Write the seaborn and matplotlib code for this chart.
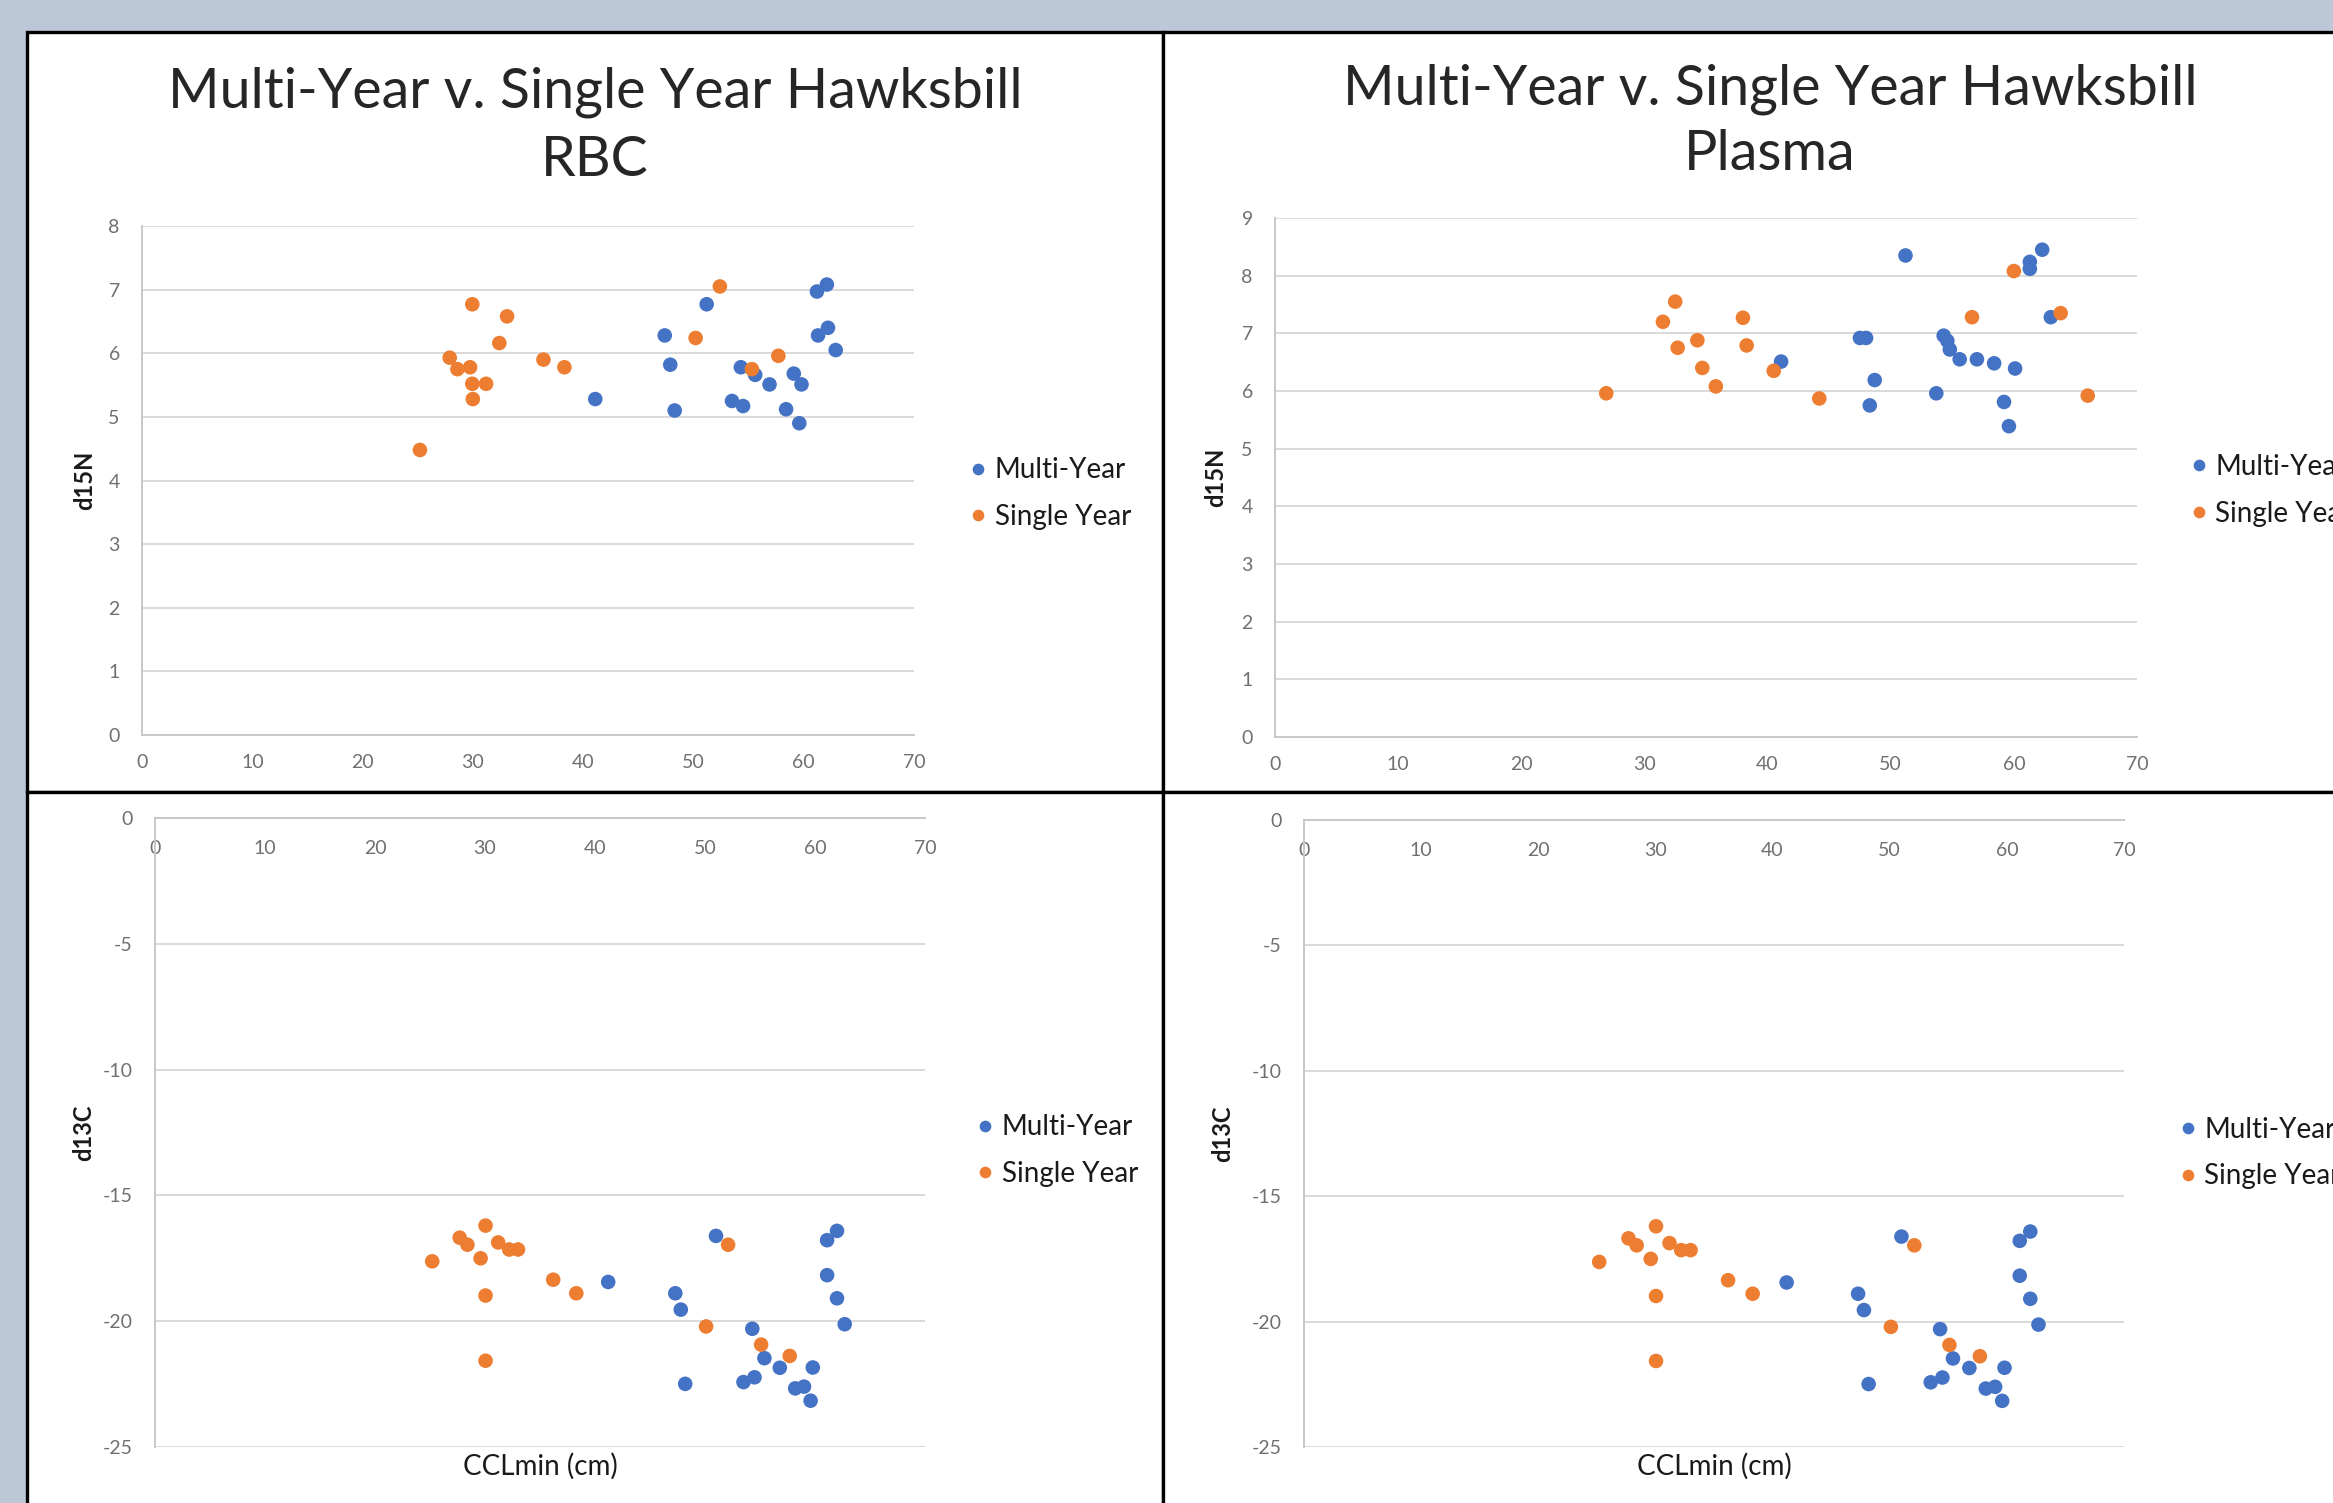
import numpy as np
import pandas as pd
import matplotlib
matplotlib.use("Agg")
import matplotlib.pyplot as plt
import seaborn as sns
from matplotlib.patches import Rectangle

# --- values (CCLmin in cm vs isotope ratio) ---
rbc_multi_ccl = [41.1, 47.4, 47.9, 48.3, 51.2, 53.5, 54.3, 54.5, 55.6, 56.9,
                 58.4, 59.1, 59.6, 59.8, 61.2, 61.3, 62.1, 62.2, 62.9]
rbc_multi_d15n = [5.28, 6.28, 5.82, 5.10, 6.77, 5.25, 5.78, 5.17, 5.66, 5.51,
                  5.12, 5.68, 4.90, 5.51, 6.97, 6.28, 7.08, 6.40, 6.05]
rbc_single_ccl = [25.2, 27.9, 28.6, 29.75, 29.95, 29.95, 30.0, 31.2, 32.4, 33.1,
                  36.4, 38.3, 50.2, 52.4, 55.3, 57.7]
rbc_single_d15n = [4.48, 5.93, 5.75, 5.78, 6.77, 5.52, 5.28, 5.52, 6.16, 6.58,
                   5.90, 5.78, 6.24, 7.05, 5.75, 5.96]

plasma_multi_ccl = [41.1, 47.5, 48.0, 48.3, 48.7, 51.2, 53.7, 54.3, 54.6, 54.8,
                    55.6, 57.0, 58.4, 59.2, 59.6, 60.1, 61.3, 61.3, 62.3, 63.0]
plasma_multi_d15n = [6.51, 6.92, 6.92, 5.75, 6.19, 8.35, 5.96, 6.96, 6.87, 6.72,
                     6.55, 6.55, 6.48, 5.81, 5.39, 6.39, 8.12, 8.24, 8.45, 7.28]
plasma_single_ccl = [26.9, 31.5, 32.5, 32.7, 34.3, 34.7, 35.8, 38.0, 38.3, 40.5,
                     44.2, 56.6, 60.0, 63.8, 66.0]
plasma_single_d15n = [5.96, 7.20, 7.55, 6.75, 6.88, 6.40, 6.08, 7.27, 6.79, 6.35,
                      5.87, 7.28, 8.08, 7.35, 5.92]

# d13C panels (both bottom charts show the same points)
c_multi_ccl = [41.2, 47.3, 47.8, 48.2, 51.0, 53.5, 54.3, 54.5, 55.4, 56.8,
               58.2, 59.0, 59.6, 59.8, 61.1, 61.1, 62.0, 62.0, 62.7]
c_multi_d13c = [-18.44, -18.89, -19.54, -22.49, -16.61, -22.42, -20.30, -22.23, -21.47, -21.85,
                -22.67, -22.60, -23.16, -21.84, -18.17, -16.78, -16.41, -19.09, -20.12]
c_single_ccl = [25.2, 27.7, 28.4, 29.6, 30.05, 30.05, 30.05, 31.2, 32.2, 33.0,
                36.2, 38.3, 50.1, 52.1, 55.1, 57.7]
c_single_d13c = [-17.62, -16.68, -16.96, -17.50, -16.20, -18.98, -21.57, -16.87, -17.15, -17.15,
                 -18.35, -18.89, -20.21, -16.96, -20.93, -21.38]

groups = ["Multi-Year", "Single Year"]
palette = {"Multi-Year": "#4472C4", "Single Year": "#ED7D31"}
title_main = "Multi-Year v. Single Year Hawksbill"

W, H = 2333, 1503


def make_df(mx, my, sx, sy):
    a = pd.DataFrame({"ccl": mx, "val": my, "group": groups[0]})
    b = pd.DataFrame({"ccl": sx, "val": sy, "group": groups[1]})
    return pd.concat([a, b], ignore_index=True)


def px_axes(fig, x0, y0, x1, y1):
    # pixel box (top-left origin) -> figure fraction axes
    return fig.add_axes([x0 / W, 1 - y1 / H, (x1 - x0) / W, (y1 - y0) / H])


def draw_panel(ax, df, ylab, ylim, yticks, flipped, leg_anchor, ylab_x):
    sns.scatterplot(data=df, x="ccl", y="val", hue="group", hue_order=groups,
                    palette=palette, s=110, linewidth=0, ax=ax)
    ax.set_facecolor("white")
    ax.set_xlim(0, 70)
    ax.set_ylim(*ylim)
    ax.set_xticks(range(0, 71, 10))
    ax.set_yticks(yticks)
    ax.grid(axis="y", color="#d9d9d9", linewidth=1.4)
    ax.grid(axis="x", visible=False)
    for s in ax.spines.values():
        s.set_visible(False)
    ax.spines["left"].set_visible(True)
    ax.spines["left"].set_color("#c8c8c8")
    ax.spines["left"].set_linewidth(1.4)
    ax.tick_params(length=0, labelsize=14, labelcolor="#707070")
    ax.tick_params(axis="y", pad=16)
    if flipped:
        ax.xaxis.tick_top()
        ax.spines["top"].set_visible(True)
        ax.spines["top"].set_color("#c8c8c8")
        ax.spines["top"].set_linewidth(1.4)
        ax.tick_params(axis="x", labeltop=True, labelbottom=False, pad=-28)
        ax.xaxis.set_label_position("bottom")
        ax.set_xlabel("CCLmin (cm)", fontsize=20, labelpad=4, color="#1a1a1a")
    else:
        ax.spines["bottom"].set_visible(True)
        ax.spines["bottom"].set_color("#c8c8c8")
        ax.spines["bottom"].set_linewidth(1.4)
        ax.tick_params(axis="x", pad=14)
        ax.set_xlabel("")
    ax.set_ylabel(ylab, fontsize=17, fontweight="bold", color="#1a1a1a")
    ax.yaxis.set_label_coords(ylab_x, 0.5)
    sns.move_legend(ax, "center left", bbox_to_anchor=leg_anchor, title=None,
                    frameon=False, fontsize=20, handlelength=0.6,
                    handletextpad=0.3, labelspacing=0.75, markerscale=0.8,
                    borderaxespad=0, labelcolor="#1a1a1a")


sns.set_theme(style="white")
plt.rcParams["font.family"] = ["Lato", "DejaVu Sans"]
plt.rcParams["axes.unicode_minus"] = False

fig = plt.figure(figsize=(W / 100, H / 100), dpi=100)
fig.patch.set_facecolor("#bcc8d7")

# white chart panels with black frames
panel_kw = dict(transform=fig.transFigure, facecolor="white", edgecolor="black",
                linewidth=2.4, zorder=-5)
fig.patches.append(Rectangle((27 / W, 1 - 792 / H), 1136 / W, 760 / H, **panel_kw))
fig.patches.append(Rectangle((1163 / W, 1 - 792 / H), 1300 / W, 760 / H, **panel_kw))
fig.patches.append(Rectangle((27 / W, -0.05), 1136 / W, 1 - 792 / H + 0.05, **panel_kw))
fig.patches.append(Rectangle((1163 / W, -0.05), 1300 / W, 1 - 792 / H + 0.05, **panel_kw))

ax_tl = px_axes(fig, 142, 226, 914, 735)
ax_tr = px_axes(fig, 1275, 218, 2137, 737)
ax_bl = px_axes(fig, 155, 818, 925, 1447)
ax_br = px_axes(fig, 1304, 820, 2124, 1447)

draw_panel(ax_tl, make_df(rbc_multi_ccl, rbc_multi_d15n, rbc_single_ccl, rbc_single_d15n),
           "d15N", (0, 8), range(0, 9), False, (1.058, 0.474), -0.06)
draw_panel(ax_tr, make_df(plasma_multi_ccl, plasma_multi_d15n, plasma_single_ccl, plasma_single_d15n),
           "d15N", (0, 9), range(0, 10), False, (1.049, 0.475), -0.055)
draw_panel(ax_bl, make_df(c_multi_ccl, c_multi_d13c, c_single_ccl, c_single_d13c),
           "d13C", (-25, 0), range(-25, 1, 5), True, (1.053, 0.471), -0.078)
draw_panel(ax_br, make_df(c_multi_ccl, c_multi_d13c, c_single_ccl, c_single_d13c),
           "d13C", (-25, 0), range(-25, 1, 5), True, (1.054, 0.469), -0.085)

# two-line chart titles, centred on each panel
fig.text(595 / W, 1 - 92 / H, title_main, ha="center", va="center", fontsize=40)
fig.text(595 / W, 1 - 160 / H, "RBC", ha="center", va="center", fontsize=40)
fig.text(1770 / W, 1 - 89 / H, title_main, ha="center", va="center", fontsize=40)
fig.text(1770 / W, 1 - 154 / H, "Plasma", ha="center", va="center", fontsize=40)

fig.savefig("out.png", dpi=100, facecolor=fig.get_facecolor())
